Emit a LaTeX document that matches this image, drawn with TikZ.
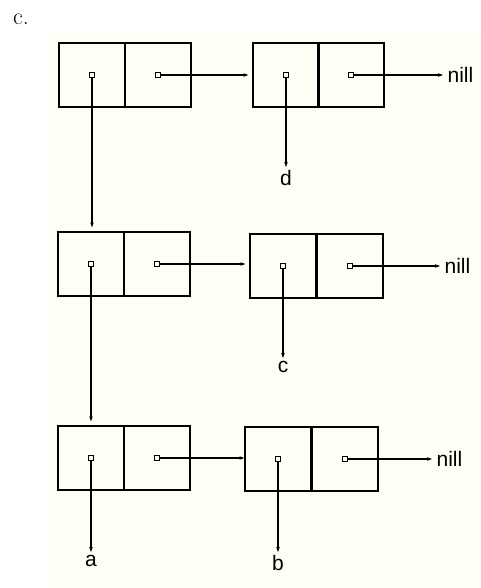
\documentclass[tikz,border=0pt]{standalone}
\usepackage{fontspec}
\setsansfont{Liberation Sans}
\usepackage{tikz}
\usetikzlibrary{arrows.meta}
\definecolor{paper}{RGB}{255,254,244}

\begin{document}
\begin{tikzpicture}[x=1pt, y=-1pt, ->, >={Stealth[length=5pt,width=3.5pt]},
                    line width=1.2pt, shorten >=0pt]
\tikzstyle{every node}=[font=\fontsize{21}{24}\sffamily]
\tikzstyle{cell}=[draw, rectangle, minimum width=66pt, minimum height=64pt, inner sep=0pt]
\tikzstyle{ptr}=[draw, rectangle, minimum size=5pt, inner sep=0pt, line width=1pt]
\tikzstyle{atom}=[inner sep=3pt, anchor=north]
\tikzstyle{nil}=[inner sep=4pt, anchor=west]
\tikzstyle{gap}=[shorten >=4pt]

\useasboundingbox (0,0) rectangle (481,588);
\fill[paper, -] (50,33) rectangle (481,588);
\node [font=\fontsize{24}{28}\rmfamily] (title) at (21,19) {c.};

% first row
\node [cell] (car11) at (92,75) {};
\node [cell] (cdr11) at (158,75) {};
\node [cell] (car12) at (286,75) {};
\node [cell] (cdr12) at (351,75) {};
% second row
\node [cell] (car21) at (91,264) {};
\node [cell] (cdr21) at (157,264) {};
\node [cell] (car22) at (283,266) {};
\node [cell] (cdr22) at (350,266) {};
% third row
\node [cell] (car31) at (91,458) {};
\node [cell] (cdr31) at (157,458) {};
\node [cell] (car32) at (278,459) {};
\node [cell] (cdr32) at (345,459) {};

% pointers
\node [ptr] (p11) at (car11) {};
\node [ptr] (q11) at (cdr11) {};
\node [ptr] (p12) at (car12) {};
\node [ptr] (q12) at (cdr12) {};
\node [ptr] (p21) at (car21) {};
\node [ptr] (q21) at (cdr21) {};
\node [ptr] (p22) at (car22) {};
\node [ptr] (q22) at (cdr22) {};
\node [ptr] (p31) at (car31) {};
\node [ptr] (q31) at (cdr31) {};
\node [ptr] (p32) at (car32) {};
\node [ptr] (q32) at (cdr32) {};

% atoms
\node [atom] (d) at (286,167) {d};
\node [atom] (c) at (283,358) {c};
\node [atom] (a) at (91,552) {a};
\node [atom] (b) at (278,552) {b};
\node [nil] (nil1) at (443,75) {nill};
\node [nil] (nil2) at (440,266) {nill};
\node [nil] (nil3) at (432,459) {nill};

\path (p11) edge [gap] (p11 |- car21.north);
\path (p21) edge [gap] (p21 |- car31.north);

\path (q11) edge [gap] (q11 -| car12.west);
\path (q21) edge [gap] (q21 -| car22.west);
\path (q31) edge (q31 -| car32.west);

\path (q12) edge (nil1);
\path (q22) edge (nil2);
\path (q32) edge (nil3);

\path (p12) edge (d);
\path (p22) edge (c);
\path (p31) edge (a);
\path (p32) edge (b);
\end{tikzpicture}
\end{document}
